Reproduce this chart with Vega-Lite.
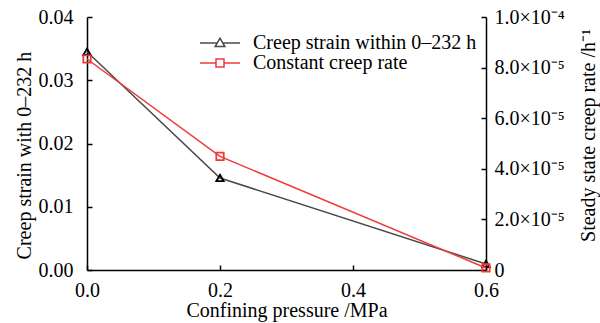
{
  "$schema": "https://vega.github.io/schema/vega-lite/v6.json",
  "width": 399,
  "height": 253,
  "autosize": "none",
  "padding": {"left": 87, "top": 17, "right": 114, "bottom": 53},
  "background": "white",
  "config": {
    "view": {"stroke": null},
    "font": "Liberation Serif",
    "text": {"font": "Liberation Serif"},
    "axis": {
      "grid": false,
      "domainColor": "black",
      "domainWidth": 1.5,
      "tickColor": "black",
      "tickWidth": 1.5,
      "tickSize": -5,
      "labelFont": "Liberation Serif",
      "labelFontSize": 20,
      "labelColor": "black",
      "titleFont": "Liberation Serif",
      "titleFontSize": 20,
      "titleFontWeight": "normal",
      "titleColor": "black"
    },
    "legend": {"labelFont": "Liberation Serif"}
  },
  "data": {
    "values": [
      {"p": 0.0, "strain": 0.0345, "rate": 0.0000834},
      {"p": 0.2, "strain": 0.01455, "rate": 0.0000449},
      {"p": 0.6, "strain": 0.00095, "rate": 0.0000008}
    ]
  },
  "encoding": {
    "x": {
      "field": "p",
      "type": "quantitative",
      "scale": {"domain": [0, 0.6], "nice": false, "zero": false},
      "axis": {
        "values": [0, 0.2, 0.4, 0.6],
        "format": ".1f",
        "labelFlush": false,
        "labelPadding": 15,
        "title": "Confining pressure /MPa",
        "titlePadding": 0
      }
    }
  },
  "layer": [
    {
      "layer": [
        {
          "mark": {"type": "line", "strokeWidth": 1.5},
          "encoding": {
            "y": {
              "field": "strain",
              "type": "quantitative",
              "scale": {"domain": [0, 0.04], "nice": false},
              "axis": {
                "values": [0, 0.01, 0.02, 0.03, 0.04],
                "format": ".2f",
                "labelPadding": 19,
                "title": "Creep strain with 0–232 h",
                "titleY": 138,
                "titlePadding": 4
              }
            },
            "color": {
              "datum": "Creep strain within 0–232 h",
              "type": "nominal",
              "scale": {
                "domain": ["Creep strain within 0–232 h", "Constant creep rate"],
                "range": ["#4a4a4a", "#f03a3a"]
              },
              "legend": {
                "orient": "none",
                "legendX": 123,
                "legendY": 16,
                "title": null,
                "symbolSize": 100,
                "symbolStrokeWidth": 1.5,
                "labelFontSize": 20,
                "labelColor": "black",
                "labelLimit": 0,
                "labelOffset": 23,
                "rowPadding": 0,
                "encode": {
                  "symbols": {
                    "update": {
                      "shape": {"signal": "datum.value === 'Constant creep rate' ? 'M-4,0H-0.8M0.8,0H4M-0.8,-0.8H0.8V0.8H-0.8Z' : 'M-4,0H-0.55M0.55,0H4M0,-0.96L0.96,0.72L-0.96,0.72Z'"},
                      "fill": {"value": "transparent"}
                    }
                  }
                }
              }
            }
          }
        },
        {
          "mark": {"type": "point", "shape": "triangle-up", "filled": false, "stroke": "black", "strokeWidth": 1.8, "size": 55, "opacity": 1},
          "encoding": {
            "y": {"field": "strain", "type": "quantitative"}
          }
        }
      ]
    },
    {
      "layer": [
        {
          "mark": {"type": "line", "strokeWidth": 1.5},
          "encoding": {
            "y": {
              "field": "rate",
              "type": "quantitative",
              "scale": {"domain": [0, 0.0001], "nice": false},
              "axis": {
                "orient": "right",
                "values": [0, 0.00002, 0.00004, 0.00006, 0.00008, 0.0001],
                "labelExpr": "datum.value == 0 ? '0' : (datum.value > 0.000099 ? '1.0×10⁻⁴' : format(datum.value * 100000, '.1f') + '×10⁻⁵')",
                "labelPadding": 13,
                "title": "Steady state creep rate /h⁻¹",
                "titleAngle": 270,
                "titleY": 118,
                "titlePadding": 34
              }
            },
            "color": {"datum": "Constant creep rate", "type": "nominal"}
          }
        },
        {
          "mark": {"type": "point", "shape": "square", "filled": false, "stroke": "#f03a3a", "strokeWidth": 1.8, "size": 55, "opacity": 1},
          "encoding": {
            "y": {"field": "rate", "type": "quantitative"}
          }
        }
      ]
    }
  ],
  "resolve": {"scale": {"y": "independent"}}
}
